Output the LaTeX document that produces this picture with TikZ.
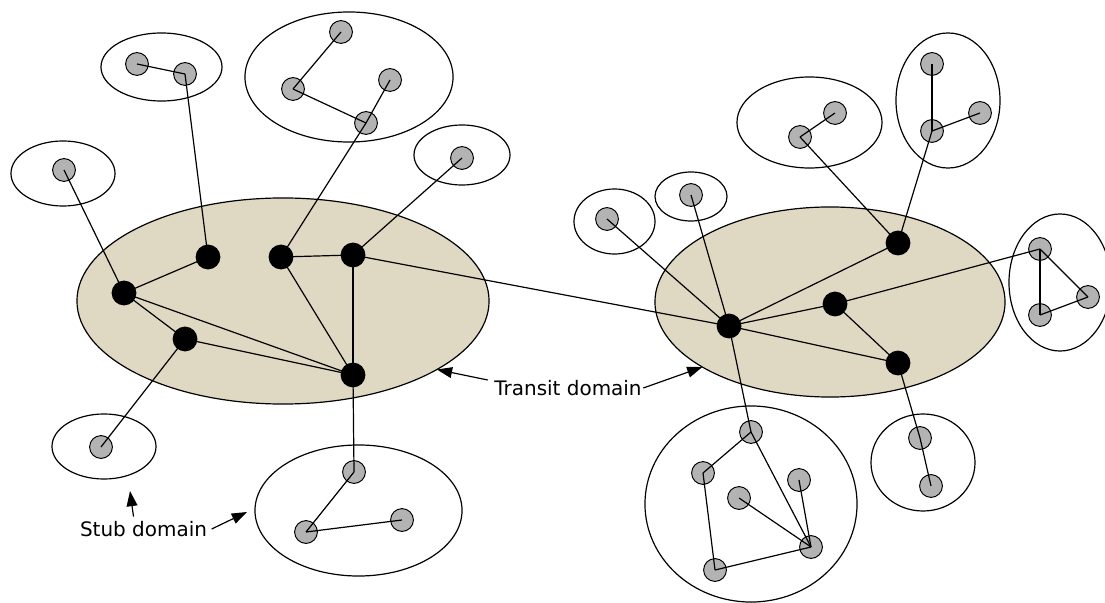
\documentclass[tikz,border=0pt]{standalone}
\usepackage{fontspec}
\setmainfont{DejaVu Sans}
\usepackage{tikz}
\usetikzlibrary{arrows.meta,shapes.geometric,calc}
\definecolor{ctransit}{HTML}{DFD8C2}
\definecolor{chost}{HTML}{B3B3B3}
\tikzset{
  area/.style={draw, ellipse, line width=0.85pt, inner sep=0pt, outer sep=0pt},
  transit/.style={area, fill=ctransit},
  stub/.style={area},
  router/.style={circle, fill=black, inner sep=0pt, minimum size=6.2mm},
  host/.style={circle, draw, line width=0.7pt, fill=chost, inner sep=0pt, minimum size=5.7mm},
  link/.style={line width=0.85pt},
  pointer/.style={-{Triangle[length=3.8mm,width=2.7mm]}, line width=0.85pt},
  lbl/.style={font=\fontsize{14.2}{17}\selectfont, inner sep=1pt},
}

\begin{document}
\begin{tikzpicture}[x=0.025cm,y=-0.025cm]
\clip (0,0) rectangle (1105,603);
% transit domains
\node[transit, minimum width=10.3cm, minimum height=5.15cm] (ta) at (283,301) {};
\node[transit, minimum width=8.75cm, minimum height=4.75cm] (tb) at (830,302) {};
% stub domains, name/x/y/rx/ry
\foreach \n/\x/\y/\rx/\ry in {
  s1/63/173.5/52/32.5, s2/161.5/67/60.5/34, s3/349/77/104/65, s4/462/155/48/30,
  s5/104/446.5/52/32.5, s6/358.5/510.5/103.5/65.5, s7/614.5/221.5/40.5/32.5,
  s8/691/196.5/36/24.5, s9/809.5/122.5/72.5/45.5, s10/948/100.5/52/67.5,
  s11/1060/282.5/51/68.5, s12/923/462.5/52/48.5, s13/751/504/106/98}
  \node[stub, minimum width=\rx*0.05cm, minimum height=\ry*0.05cm] (\n) at (\x,\y) {};
% routers
\foreach \n/\x/\y in {a1/124/293, a2/208/257, a3/281/257, a4/353/255, a5/185/339, a6/353/375,
  b1/729/326, b2/898/243, b3/835/304, b4/898/363}
  \node[router] (\n) at (\x,\y) {};
% hosts
\foreach \n/\x/\y in {h1/64/170, h2a/137/64, h2b/185/74,
  h3a/341/32, h3b/293/89, h3c/390/80, h3d/366/123, h4/462/158, h5/101/447,
  h6a/354/472, h6b/306/532, h6c/402/520, h7/607/219, h8/691/195,
  h9a/800/137, h9b/835/113, h10a/932/64, h10b/932/131, h10c/980/113,
  h11a/1040/249, h11b/1040/315, h11c/1088/297, h12a/920/438, h12b/931/486,
  h13a/751/432, h13b/703/473, h13c/739/498, h13d/799/480, h13e/811/547, h13f/715/570}
  \node[host] (\n) at (\x,\y) {};
% links
\foreach \a/\b in {a1/a2, a1/a5, a1/a6, a5/a6, a3/a4, a3/a6, a4/a6, a4/b1,
  b1/b2, b1/b3, b1/b4, b3/b4,
  h1/a1, h2a/h2b, h2b/a2, h3a/h3b, h3b/h3d, h3c/h3d, h3d/a3, h4/a4, h5/a5,
  h6a/h6b, h6b/h6c, h6a/a6, h7/b1, h8/b1, h9a/h9b, h9a/b2,
  h10a/h10b, h10b/h10c, h10b/b2, h11a/h11b, h11a/h11c, h11b/h11c, h11a/b3,
  h12a/h12b, h12a/b4, h13a/b1, h13a/h13b, h13a/h13e, h13b/h13f, h13f/h13e,
  h13c/h13e, h13d/h13e}
  \draw[link] (\a.center) -- (\b.center);
% labels
\node[lbl] (translbl) at (568,388) {Transit domain};
\node[lbl] (stublbl) at (143.5,529) {Stub domain};
\coordinate (stubtipa) at (130,491);
\coordinate (stubtipb) at (247,512);
\draw[pointer] ($(translbl.west)+(-5,-8)$) -- (ta.336);
\draw[pointer] (translbl.east) -- (tb.207);
\draw[pointer] ($(stublbl.north)+(-10,-3)$) -- (stubtipa);
\draw[pointer] ($(stublbl.east)+(3,0)$) -- (stubtipb);
\end{tikzpicture}
\end{document}
